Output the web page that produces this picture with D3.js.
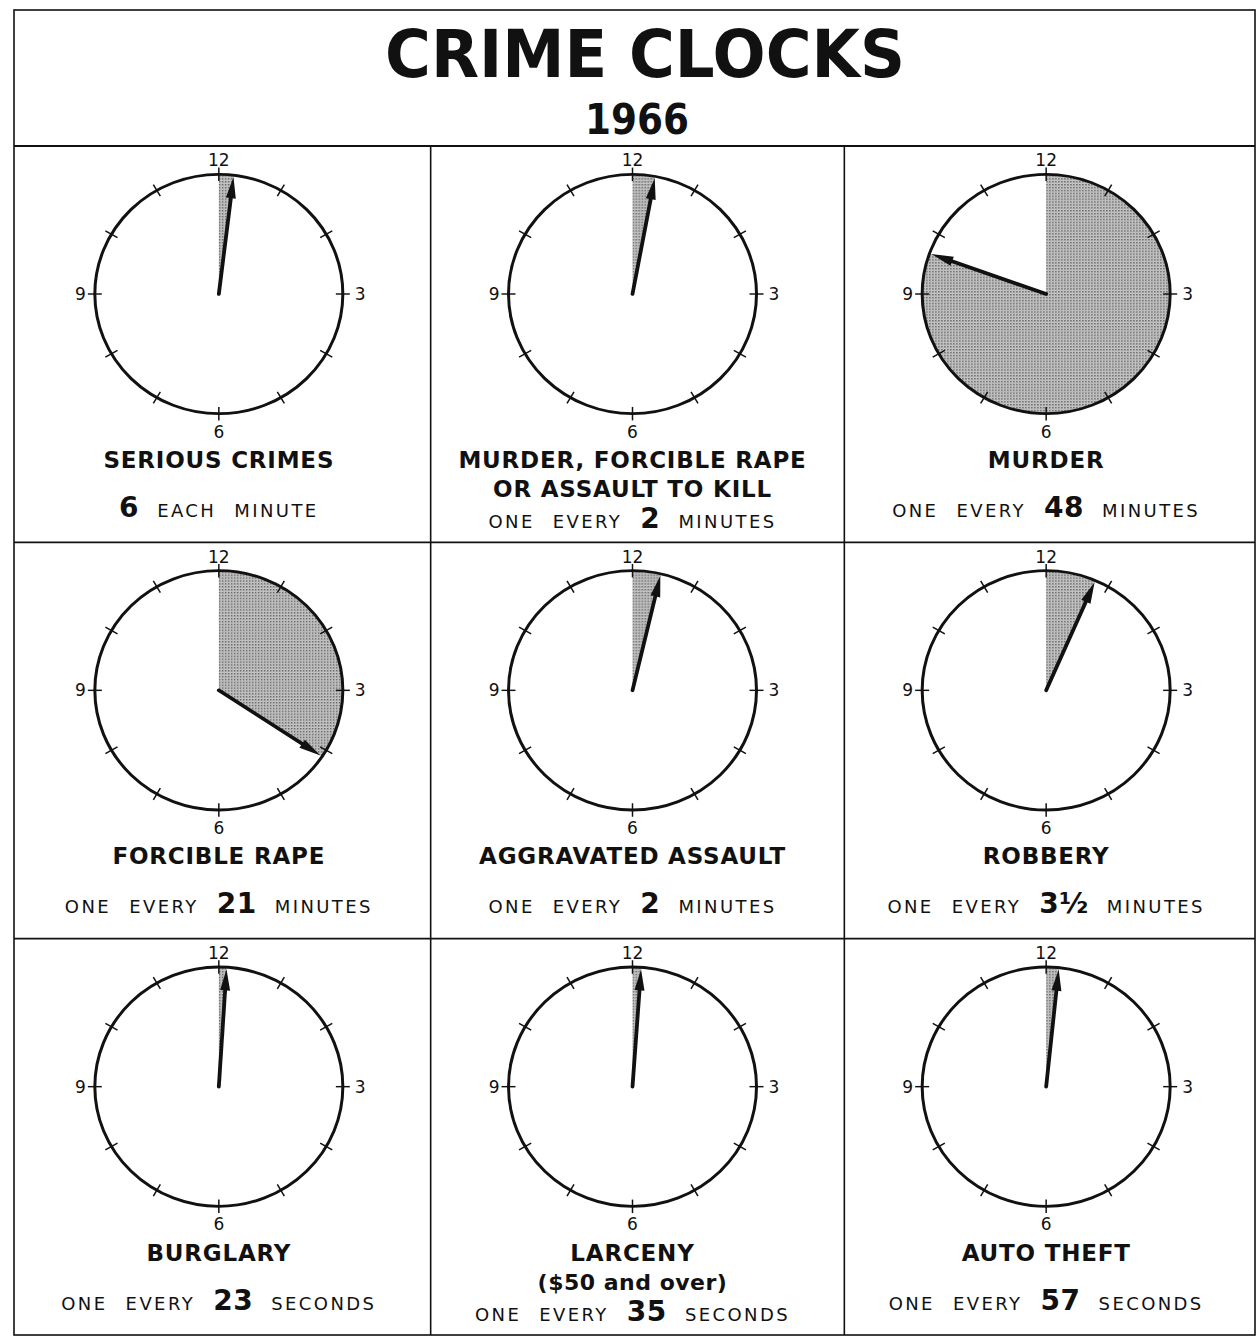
<!DOCTYPE html>
<html>
<head>
<meta charset="utf-8">
<script src="https://cdn.jsdelivr.net/npm/d3@7"></script>
<style>
  body { margin: 0; background: #fff; }
  text { font-family: "DejaVu Sans", sans-serif; fill: #111; }
</style>
</head>
<body>
<script>
const title = "CRIME CLOCKS";
const year = "1966";
const crimeNames = [
  ["SERIOUS CRIMES"],
  ["MURDER, FORCIBLE RAPE", "OR ASSAULT TO KILL"],
  ["MURDER"],
  ["FORCIBLE RAPE"],
  ["AGGRAVATED ASSAULT"],
  ["ROBBERY"],
  ["BURGLARY"],
  ["LARCENY", "($50 and over)"],
  ["AUTO THEFT"],
];
const rateLead = ["", "ONE EVERY", "ONE EVERY", "ONE EVERY", "ONE EVERY", "ONE EVERY", "ONE EVERY", "ONE EVERY", "ONE EVERY"];
const rateNumber = ["6", "2", "48", "21", "2", "3½", "23", "35", "57"];
const rateUnit = ["EACH MINUTE", "MINUTES", "MINUTES", "MINUTES", "MINUTES", "MINUTES", "SECONDS", "SECONDS", "SECONDS"];
// hand position on the 60 minute dial, as drawn
const handMinutes = [1.15, 1.75, 48.3, 20.6, 2.2, 3.9, 0.6, 0.67, 0.98];
const dialNumbers = [12, 3, 6, 9];

const W = 1258, H = 1337;
const box = { left: 14, right: 1255, top: 10, titleBottom: 146, bottom: 1335 };

const svg = d3.select("body").append("svg")
  .attr("width", W)
  .attr("height", H);

// stipple for the shaded wedge
const pat = svg.append("defs").append("pattern")
  .attr("id", "dots")
  .attr("width", 3).attr("height", 3)
  .attr("patternUnits", "userSpaceOnUse");
pat.append("rect").attr("width", 3).attr("height", 3).attr("fill", "#cdcdcd");
pat.append("rect").attr("width", 1.5).attr("height", 1.5).attr("fill", "#5c5c5c");
pat.append("rect").attr("x", 1.5).attr("y", 1.5).attr("width", 1).attr("height", 1).attr("fill", "#959595");

// frame
const frame = svg.append("g").attr("fill", "none").attr("stroke", "#111").attr("stroke-width", 1.6);
frame.append("rect")
  .attr("x", box.left).attr("y", box.top)
  .attr("width", box.right - box.left).attr("height", box.bottom - box.top);

const col = d3.scaleBand().domain([0, 1, 2]).range([box.left, box.right]);
const row = d3.scaleBand().domain([0, 1, 2]).range([box.titleBottom, box.bottom]);

frame.append("line").attr("x1", box.left).attr("x2", box.right)
  .attr("y1", box.titleBottom).attr("y2", box.titleBottom).attr("stroke-width", 2);
[1, 2].forEach((i) => {
  frame.append("line").attr("x1", box.left).attr("x2", box.right)
    .attr("y1", row(i)).attr("y2", row(i));
  frame.append("line").attr("x1", col(i) + 3).attr("x2", col(i) + 3)
    .attr("y1", box.titleBottom).attr("y2", box.bottom);
});

// title
svg.append("text")
  .attr("x", 645).attr("y", 77)
  .attr("text-anchor", "middle")
  .attr("font-size", 66).attr("font-weight", "bold")
  .attr("textLength", 520).attr("lengthAdjust", "spacingAndGlyphs")
  .text(title);
svg.append("text")
  .attr("x", 637).attr("y", 134)
  .attr("text-anchor", "middle")
  .attr("font-size", 42).attr("font-weight", "bold")
  .attr("textLength", 104).attr("lengthAdjust", "spacingAndGlyphs")
  .text(year);

const angle = d3.scaleLinear().domain([0, 60]).range([0, 2 * Math.PI]);
const r = 124, squash = 0.965;

crimeNames.forEach((names, i) => {
  const cx = col(i % 3) + col.bandwidth() / 2 - 2;
  const top = row(Math.floor(i / 3));
  const cy = top + 148;
  const a = angle(handMinutes[i]);

  const dial = svg.append("g")
    .attr("transform", "translate(" + cx + "," + cy + ") scale(1," + squash + ")");

  dial.append("path")
    .attr("fill", "url(#dots)")
    .attr("d", d3.arc().innerRadius(0).outerRadius(r - 1).startAngle(0).endAngle(a)());

  dial.append("circle")
    .attr("r", r)
    .attr("fill", "none")
    .attr("stroke", "#111")
    .attr("stroke-width", 3);

  dial.selectAll(".tick")
    .data(d3.range(12))
    .join("line")
    .attr("class", "tick")
    .attr("stroke", "#111")
    .attr("stroke-width", 1.5)
    .attr("x1", (d) => (r - 7) * Math.sin(angle(d * 5)))
    .attr("y1", (d) => -(r - 7) * Math.cos(angle(d * 5)))
    .attr("x2", (d) => (r + 7) * Math.sin(angle(d * 5)))
    .attr("y2", (d) => -(r + 7) * Math.cos(angle(d * 5)));

  // hand
  const sx = Math.sin(a), sy = -Math.cos(a);
  const tip = r - 2, base = r - 24, hw = 5;
  dial.append("line")
    .attr("x1", 0).attr("y1", 0)
    .attr("x2", base * sx).attr("y2", base * sy)
    .attr("stroke", "#111")
    .attr("stroke-width", 3.8)
    .attr("stroke-linecap", "round");
  dial.append("path")
    .attr("fill", "#111")
    .attr("d", "M" + tip * sx + "," + tip * sy +
      "L" + (base * sx - hw * sy) + "," + (base * sy + hw * sx) +
      "L" + (base * sx + hw * sy) + "," + (base * sy - hw * sx) + "Z");

  // dial numbers
  const ry = r * squash;
  dialNumbers.forEach((n) => {
    const t = svg.append("text").attr("font-size", 17).text(n);
    if (n === 12) t.attr("x", cx).attr("y", cy - ry - 8).attr("text-anchor", "middle");
    if (n === 6) t.attr("x", cx).attr("y", cy + ry + 24).attr("text-anchor", "middle");
    if (n === 3) t.attr("x", cx + r + 12).attr("y", cy + 6).attr("text-anchor", "start");
    if (n === 9) t.attr("x", cx - r - 9).attr("y", cy + 6).attr("text-anchor", "end");
  });

  // captions
  let y = top + 322;
  names.forEach((name, k) => {
    const lower = name !== name.toUpperCase();
    svg.append("text")
      .attr("x", cx).attr("y", y)
      .attr("text-anchor", "middle")
      .attr("font-size", lower ? 22 : 23)
      .attr("font-weight", "bold")
      .attr("letter-spacing", lower ? 0.5 : 0.8)
      .text(name);
    if (k < names.length - 1) y += 29;
  });
  y += names.length > 1 ? 31 : 49;

  const rate = svg.append("text")
    .attr("x", cx).attr("y", y)
    .attr("text-anchor", "middle")
    .attr("font-size", 18)
    .attr("letter-spacing", 2.4)
    .attr("word-spacing", 10);
  if (rateLead[i]) rate.append("tspan").text(rateLead[i] + " ");
  rate.append("tspan")
    .attr("font-size", 28)
    .attr("font-weight", "bold")
    .attr("letter-spacing", 0.5)
    .text(rateNumber[i]);
  rate.append("tspan").text(" " + rateUnit[i]);
});
</script>
</body>
</html>
